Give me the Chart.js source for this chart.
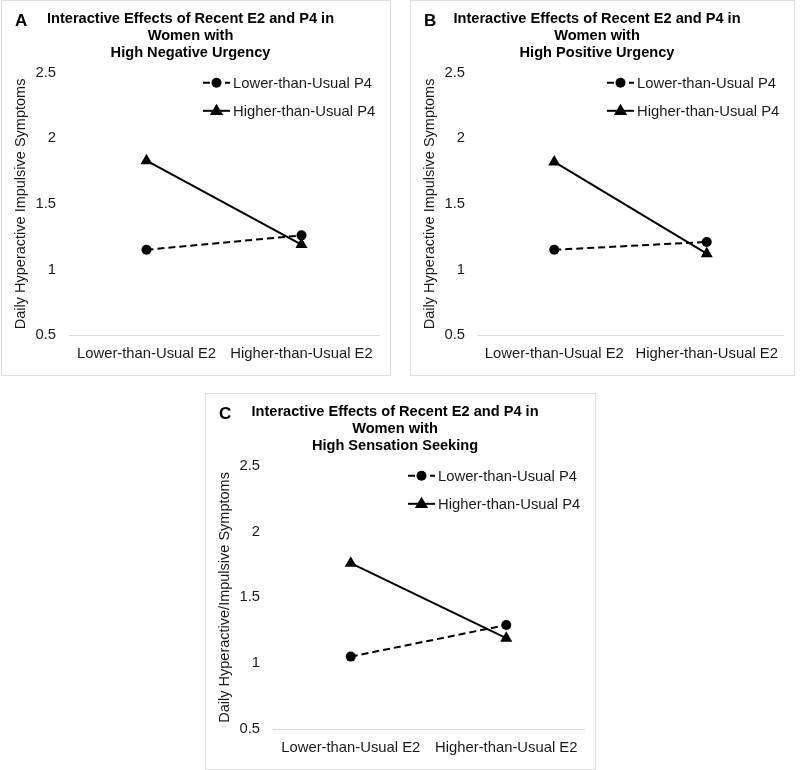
<!DOCTYPE html>
<html>
<head>
<meta charset="utf-8">
<script src="https://cdn.jsdelivr.net/npm/chart.js@4.4.0/dist/chart.umd.min.js"></script>
<style>
  body { margin: 0; background: #fff; width: 800px; height: 770px; position: relative; overflow: hidden; }
  .panel { position: absolute; border: 1px solid #dddddd; background: #fff; }
  .panel canvas { display: block; }
</style>
</head>
<body>
<div class="panel" id="pa" style="left:1px; top:0px; width:388px; height:374px;"><canvas id="chartA"></canvas></div>
<div class="panel" id="pb" style="left:410px; top:0px; width:383px; height:374px;"><canvas id="chartB"></canvas></div>
<div class="panel" id="pc" style="left:205px; top:393px; width:389px; height:375px;"><canvas id="chartC"></canvas></div>
<script>
const categories = ['Lower-than-Usual E2', 'Higher-than-Usual E2'];
const seriesNames = ['Lower-than-Usual P4', 'Higher-than-Usual P4'];
const yTicks = [0.5, 1, 1.5, 2, 2.5];

const lowerP4A = [1.15, 1.26];
const higherP4A = [1.83, 1.19];
const lowerP4B = [1.15, 1.21];
const higherP4B = [1.82, 1.12];
const lowerP4C = [1.05, 1.29];
const higherP4C = [1.76, 1.19];

const FONT = "'Liberation Sans', Arial, sans-serif";

// panel letter + excel-like legend in the top right of the plot
const panelExtras = {
    id: 'panelExtras',
    afterDraw(chart, args, opts) {
        const ctx = chart.ctx;
        const area = chart.chartArea;
        ctx.save();
        ctx.fillStyle = '#000';
        ctx.font = 'bold 17px ' + FONT;
        ctx.textAlign = 'left';
        ctx.textBaseline = 'middle';
        ctx.fillText(opts.letter, 13, 20);

        ctx.font = '14.8px ' + FONT;
        const x0 = area.right - 176;
        chart.data.datasets.forEach((ds, i) => {
            const y = area.top + 10 + i * 28;
            ctx.strokeStyle = '#000';
            ctx.lineWidth = 2;
            ctx.setLineDash(ds.borderDash || []);
            ctx.beginPath();
            ctx.moveTo(x0, y);
            ctx.lineTo(x0 + 27, y);
            ctx.stroke();
            ctx.setLineDash([]);
            ctx.fillStyle = '#000';
            ctx.beginPath();
            const cx = x0 + 13.5;
            if (ds.pointStyle === 'triangle') {
                const r = ds.pointRadius;
                ctx.moveTo(cx, y - r);
                ctx.lineTo(cx + r * 0.95, y + r * 0.6);
                ctx.lineTo(cx - r * 0.95, y + r * 0.6);
                ctx.closePath();
            } else {
                ctx.arc(cx, y, ds.pointRadius, 0, Math.PI * 2);
            }
            ctx.fill();
            ctx.fillStyle = '#1a1a1a';
            ctx.fillText(ds.label, x0 + 30, y + 1);
        });
        ctx.restore();
    }
};

function makeChart(id, letter, titleLine, yTitle, lower, higher) {
    return new Chart(document.getElementById(id), {
        type: 'line',
        data: {
            labels: categories,
            datasets: [
                {
                    label: seriesNames[0],
                    data: lower,
                    borderColor: '#000',
                    backgroundColor: '#000',
                    borderWidth: 2,
                    borderDash: [7, 4],
                    pointStyle: 'circle',
                    pointRadius: 5,
                    pointBorderWidth: 0
                },
                {
                    label: seriesNames[1],
                    data: higher,
                    borderColor: '#000',
                    backgroundColor: '#000',
                    borderWidth: 2,
                    pointStyle: 'triangle',
                    pointRadius: 7,
                    pointBorderWidth: 0
                }
            ]
        },
        options: {
            responsive: true,
            maintainAspectRatio: false,
            animation: false,
            layout: { padding: { left: 0, right: 11, top: 0, bottom: 0 } },
            plugins: {
                legend: { display: false },
                tooltip: { enabled: false },
                title: {
                    display: true,
                    text: ['Interactive Effects of Recent E2 and P4 in', 'Women with', titleLine],
                    color: '#000',
                    font: { family: FONT, size: 14.6, weight: 'bold', lineHeight: 1.16 },
                    padding: { top: 10, bottom: 11 }
                },
                panelExtras: { letter: letter }
            },
            scales: {
                x: {
                    offset: true,
                    grid: { display: false, drawTicks: false },
                    border: { display: true, color: '#d9d9d9', width: 1 },
                    ticks: { color: '#1a1a1a', font: { family: FONT, size: 14.8 }, padding: 10, maxRotation: 0 },
                    afterFit: s => { s.height = 40; }
                },
                y: {
                    min: yTicks[0],
                    max: yTicks[yTicks.length - 1],
                    grid: { display: false, drawTicks: false },
                    border: { display: false },
                    afterBuildTicks: s => { s.ticks = yTicks.map(v => ({ value: v })); },
                    ticks: {
                        color: '#1a1a1a',
                        font: { family: FONT, size: 14.8 },
                        padding: 13,
                        callback: v => String(v)
                    },
                    title: {
                        display: true,
                        text: yTitle,
                        color: '#1a1a1a',
                        font: { family: FONT, size: 14.5 },
                        padding: { top: 10, bottom: 0 }
                    },
                    afterFit: s => { s.width = 67; }
                }
            }
        },
        plugins: [panelExtras]
    });
}

makeChart('chartA', 'A', 'High Negative Urgency', 'Daily Hyperactive Impulsive Symptoms', lowerP4A, higherP4A);
makeChart('chartB', 'B', 'High Positive Urgency', 'Daily Hyperactive Impulsive Symptoms', lowerP4B, higherP4B);
makeChart('chartC', 'C', 'High Sensation Seeking', 'Daily Hyperactive/Impulsive Symptoms', lowerP4C, higherP4C);
</script>
</body>
</html>
